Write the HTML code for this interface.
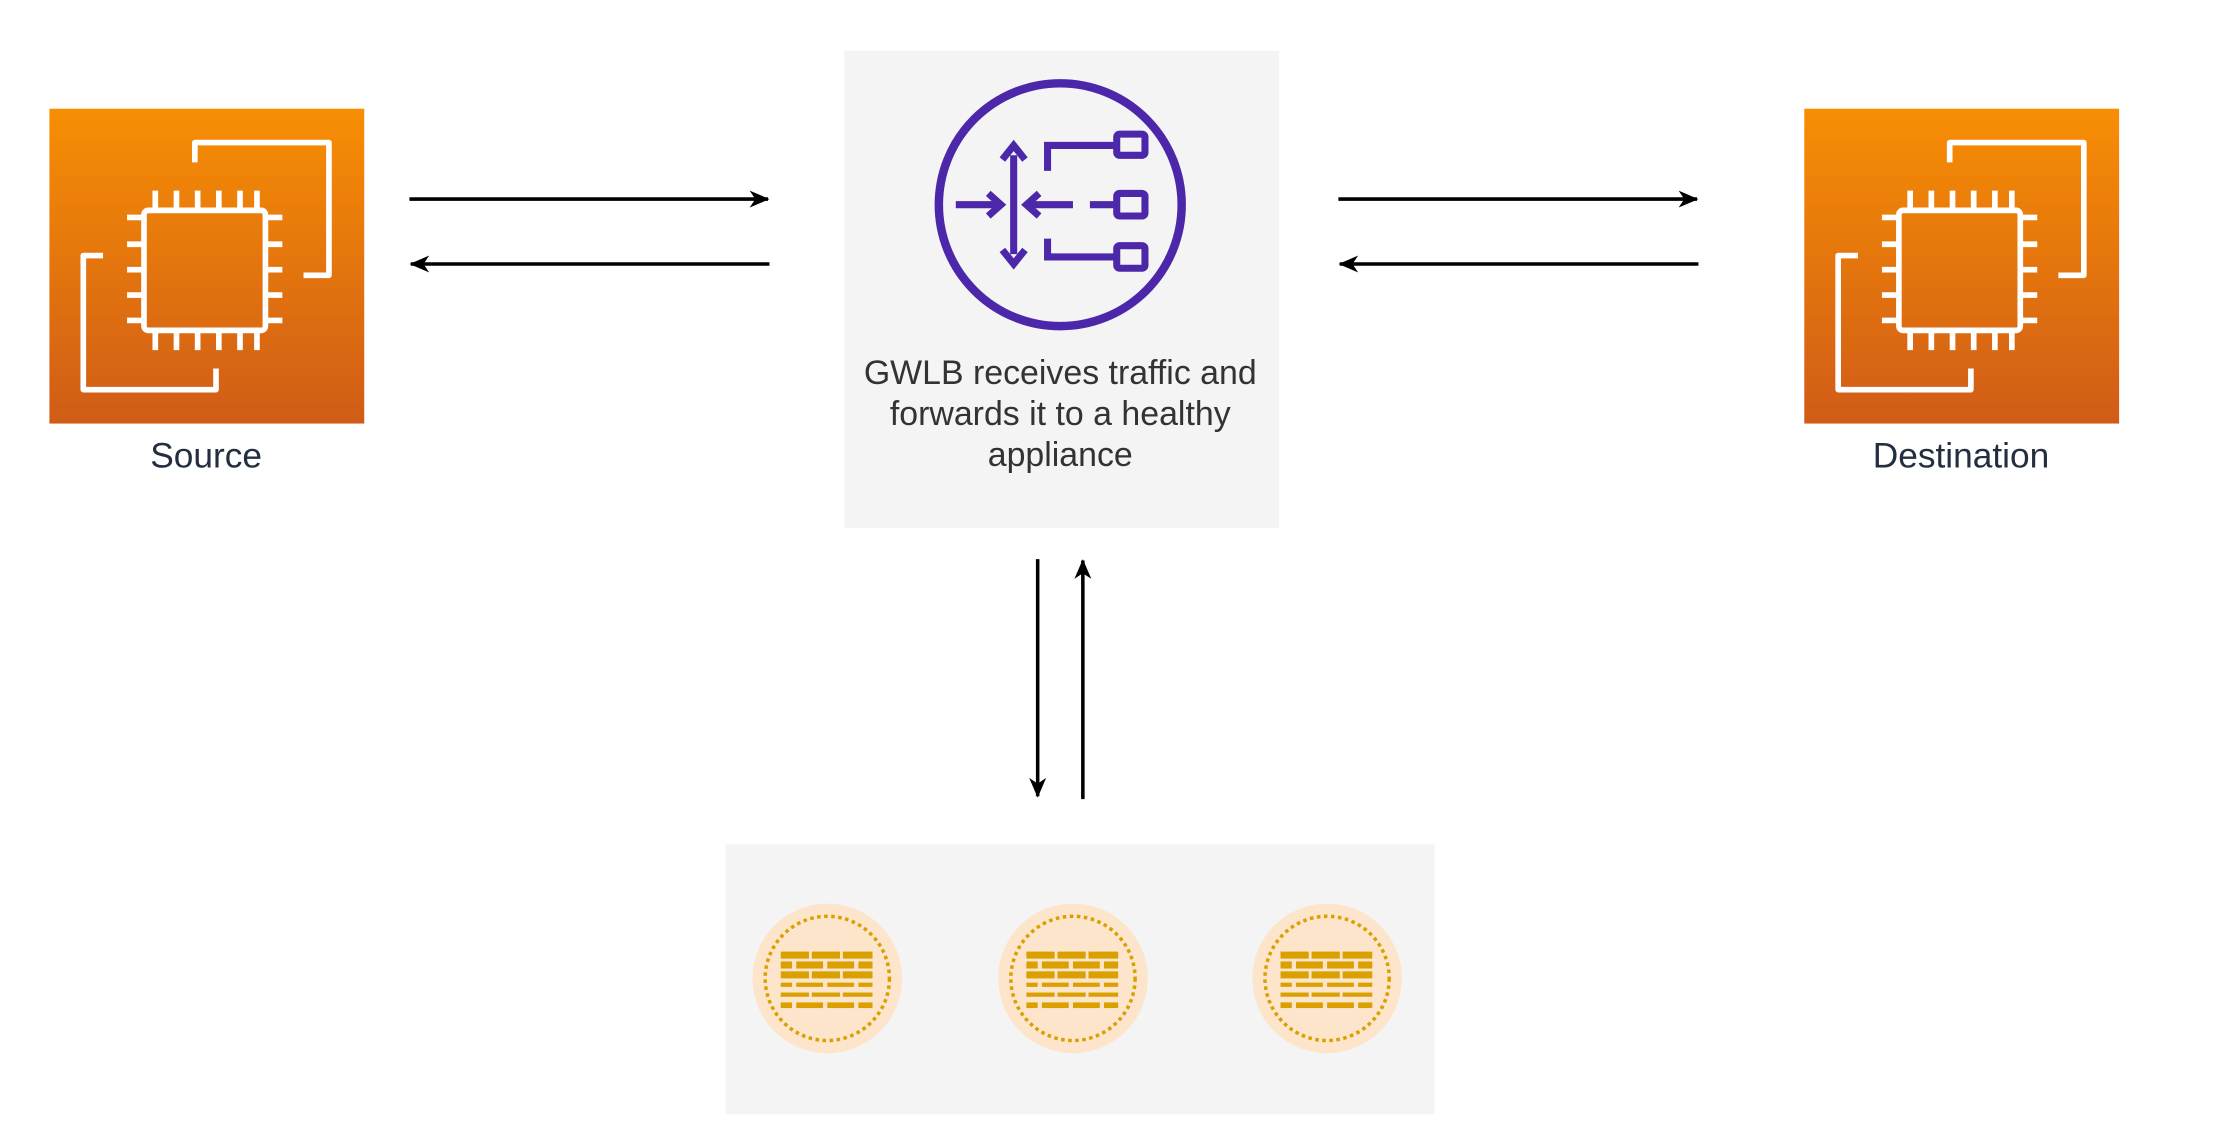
<!DOCTYPE html>
<html><head><meta charset="utf-8"><style>
html,body{margin:0;padding:0;background:#fff;}
svg{display:block;}
</style></head><body>
<svg width="2213" height="1133" viewBox="0 0 1567.5 802.5" preserveAspectRatio="none" xmlns="http://www.w3.org/2000/svg" font-family="Liberation Sans, sans-serif">
<defs>
<linearGradient id="og" x1="0" y1="0" x2="0" y2="1"><stop offset="0" stop-color="#F78E04"/><stop offset="1" stop-color="#D05C17"/></linearGradient>
<marker id="ah" markerWidth="14" markerHeight="12" refX="13" refY="6" orient="auto" markerUnits="userSpaceOnUse"><path d="M0,0 L14,6 L0,12 L4,6 Z" fill="#000"/></marker>
<g id="ec2">
<rect x="0" y="0" width="223" height="223" fill="url(#og)"/>
<g fill="none" stroke="#fff" stroke-width="4" stroke-linejoin="round">
<path d="M103,38 V24 H198 V118 H180"/>
<path d="M38,104 H24 V199 H118 V184"/>
<rect x="67" y="72" width="86" height="85" rx="3"/>
<path d="M75,72 V58 M90,72 V58 M105,72 V58 M120,72 V58 M135,72 V58 M147,72 V58"/>
<path d="M75,157 V171 M90,157 V171 M105,157 V171 M120,157 V171 M135,157 V171 M147,157 V171"/>
<path d="M67,77 H55 M67,96 H55 M67,114 H55 M67,132 H55 M67,150 H55"/>
<path d="M153,77 H165 M153,96 H165 M153,114 H165 M153,132 H165 M153,150 H165"/>
</g>
</g>
<g id="fw">
<circle cx="0" cy="0" r="53" fill="#FDE5CC"/>
<circle cx="0" cy="0" r="44" fill="none" stroke="#D9A000" stroke-width="2.5" stroke-dasharray="2.5 2.5"/>
<g fill="#D9A000">
<rect x="-33" y="-19" width="20" height="5"/><rect x="-11" y="-19" width="20" height="5"/><rect x="11" y="-19" width="21" height="5"/>
<rect x="-33" y="-12" width="8" height="5"/><rect x="-22" y="-12" width="19" height="5"/><rect x="0" y="-12" width="19" height="5"/><rect x="22" y="-12" width="10" height="5"/>
<rect x="-33" y="-5" width="20" height="5"/><rect x="-11" y="-5" width="20" height="5"/><rect x="11" y="-5" width="21" height="5"/>
<rect x="-33" y="3" width="8" height="3"/><rect x="-22" y="3" width="19" height="3"/><rect x="0" y="3" width="19" height="3"/><rect x="22" y="3" width="10" height="3"/>
<rect x="-33" y="10" width="20" height="3"/><rect x="-11" y="10" width="20" height="3"/><rect x="11" y="10" width="21" height="3"/>
<rect x="-33" y="17" width="8" height="4"/><rect x="-22" y="17" width="19" height="4"/><rect x="0" y="17" width="19" height="4"/><rect x="22" y="17" width="10" height="4"/>
</g>
</g>
</defs>

<use href="#ec2" x="35" y="77"/>
<text x="146" y="331" font-size="25" fill="#232F3E" text-anchor="middle">Source</text>
<use href="#ec2" x="1278" y="77"/>
<text x="1389" y="331" font-size="25" fill="#232F3E" text-anchor="middle">Destination</text>

<rect x="598" y="36" width="308" height="338" fill="#F4F4F4"/>
<circle cx="751" cy="145" r="86" fill="none" stroke="#4D27AA" stroke-width="6"/>
<g fill="none" stroke="#4D27AA" stroke-width="5">
<path d="M718,110 V180"/>
<path d="M710,113 L718,103 L726,113"/>
<path d="M710,177 L718,187 L726,177"/>
<path d="M677,145 H706"/>
<path d="M700,137 L709,145 L700,153"/>
<path d="M730,145 H760"/>
<path d="M736,137 L727,145 L736,153"/>
<path d="M772,145 H790"/>
<path d="M742,121 V103 H790"/>
<path d="M742,169 V182 H790"/>
<rect x="791" y="95" width="20" height="15" rx="2"/>
<rect x="791" y="137" width="20" height="16" rx="2"/>
<rect x="791" y="174" width="20" height="16" rx="2"/>
</g>
<g font-size="24" fill="#333" text-anchor="middle">
<text x="751" y="272">GWLB receives traffic and</text>
<text x="751" y="301">forwards it to a healthy</text>
<text x="751" y="330">appliance</text>
</g>

<g stroke="#000" stroke-width="2.5" fill="none">
<line x1="290" y1="141" x2="544" y2="141" marker-end="url(#ah)"/>
<line x1="545" y1="187" x2="291" y2="187" marker-end="url(#ah)"/>
<line x1="948" y1="141" x2="1202" y2="141" marker-end="url(#ah)"/>
<line x1="1203" y1="187" x2="949" y2="187" marker-end="url(#ah)"/>
<line x1="735" y1="396" x2="735" y2="564" marker-end="url(#ah)"/>
<line x1="767" y1="566" x2="767" y2="397" marker-end="url(#ah)"/>
</g>

<rect x="514" y="598" width="502" height="191" fill="#F4F4F4"/>
<use href="#fw" x="586" y="693"/>
<use href="#fw" x="760" y="693"/>
<use href="#fw" x="940" y="693"/>
</svg>
</body></html>
